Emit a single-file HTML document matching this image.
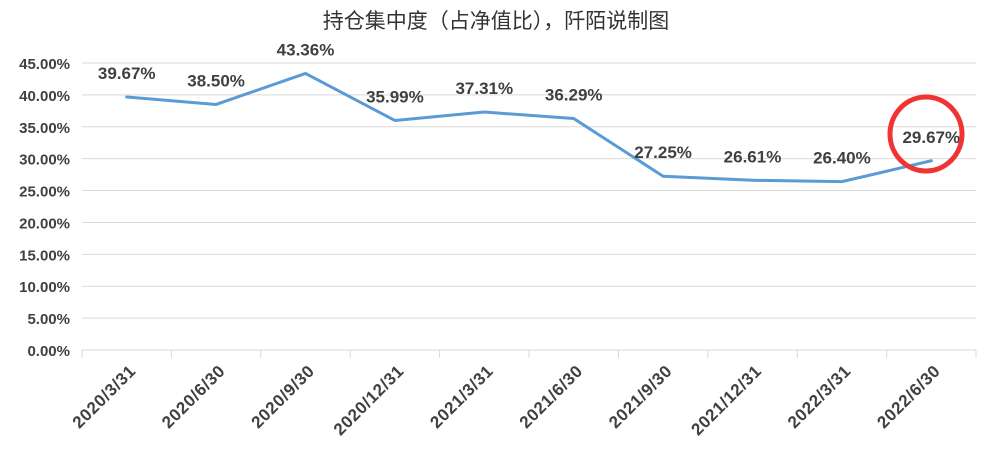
<!DOCTYPE html>
<html><head><meta charset="utf-8"><style>
html,body{margin:0;padding:0;background:#fff;}
svg{display:block;font-family:"Liberation Sans","Noto Sans CJK SC",sans-serif;}
</style></head><body>
<svg id="chart" width="993" height="462">
<text x="496" y="28" text-anchor="middle" font-size="21" fill="#333">持仓集中度（占净值比），阡陌说制图</text>
<g id="grid"></g><g id="yticks"></g><g id="xticks"></g><g id="series"></g><g id="labels"></g>
<ellipse cx="926" cy="134" rx="36" ry="37" fill="none" stroke="#f03434" stroke-width="5"/>
</svg>
<script>
const categories=["2020/3/31","2020/6/30","2020/9/30","2020/12/31","2021/3/31","2021/6/30","2021/9/30","2021/12/31","2022/3/31","2022/6/30"];
const values=[39.67,38.50,43.36,35.99,37.31,36.29,27.25,26.61,26.40,29.67];
const yTicks=[0,5,10,15,20,25,30,35,40,45];
const NS="http://www.w3.org/2000/svg";
const L=82,R=976,T=63,B=350,yMax=45;
const band=(R-L)/categories.length;
const xs=i=>L+band*(i+0.5);
const ys=v=>B-(v/yMax)*(B-T);
function mk(tag,attrs,parent,text){const e=document.createElementNS(NS,tag);for(const k in attrs)e.setAttribute(k,attrs[k]);if(text!==undefined)e.textContent=text;document.getElementById(parent).appendChild(e);return e;}
yTicks.forEach(t=>{
  const g=mk("line",{x1:L,x2:R,y1:ys(t),y2:ys(t),stroke:"#d9d9d9","stroke-width":1},"grid");
  
  
  const lb=mk("text",{x:70,y:ys(t)+6,"text-anchor":"end","font-size":15,"font-weight":"bold",fill:"#404040"},"yticks",t.toFixed(2)+"%");
  
  
});
for(let i=0;i<=categories.length;i++){
  const x=L+band*i;
  const tk=mk("line",{x1:x,x2:x,y1:B,y2:B+8,stroke:"#d9d9d9","stroke-width":1},"xticks");
  
  
}
categories.forEach((c,i)=>{
  const x=xs(i)+10,y=B+22;
  const t=mk("text",{x:x,y:y,"text-anchor":"end","font-size":17,"font-weight":"bold","letter-spacing":"0.6",fill:"#404040",transform:`rotate(-45 ${x} ${y})`},"xticks",c);
  
  
});
const pts=values.map((v,i)=>xs(i)+","+ys(v)).join(" ");
const line=mk("polyline",{points:pts,fill:"none",stroke:"#5b9bd5","stroke-width":3,"stroke-linejoin":"round","stroke-linecap":"round"},"series");


values.forEach((v,i)=>{
  const t=mk("text",{x:xs(i),y:ys(v)-18,"text-anchor":"middle","font-size":17,"font-weight":"bold",fill:"#404040"},"labels",v.toFixed(2)+"%");
  
  
});
</script>
</body></html>
